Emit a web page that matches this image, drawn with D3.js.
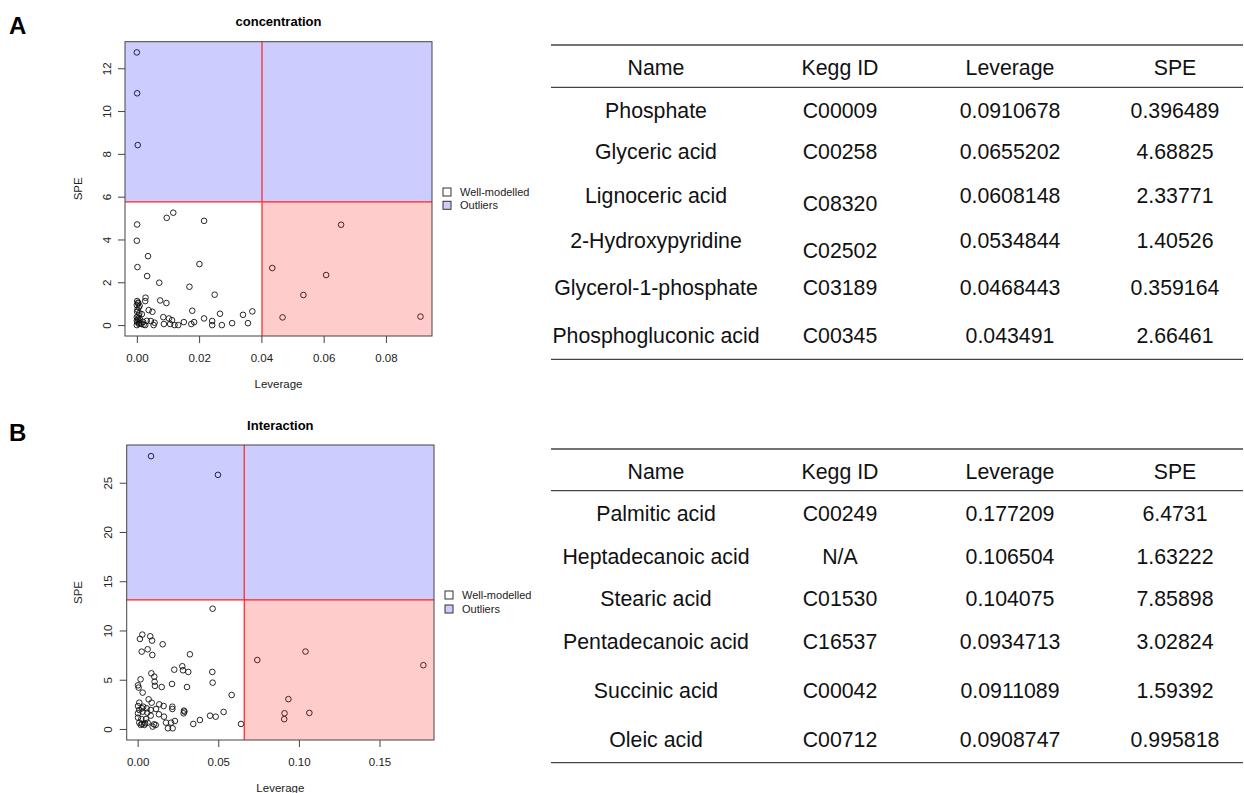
<!DOCTYPE html>
<html>
<head>
<meta charset="utf-8">
<script src="https://cdn.jsdelivr.net/npm/d3@7"></script>
<style>
  body { margin: 0; background: #fff; }
  svg { display: block; font-family: "Liberation Sans", Arial, sans-serif; }
</style>
</head>
<body>
<script>
// ---- data: panel A (concentration) ----
var levA = [0, 0.0001, 0.0003,
  0.0001, 0, 0.0002, 0.0033, 0.0036, 0.0096, 0.0117, 0.0216, 0.0201, 0.0072, 0.0169, 0.025,
  0.0075, 0.0095, 0.0028, 0.0027, 0.0178, 0.0216, 0.0267, 0.0341, 0.0371, 0.0357, 0.0306,
  0.0273, 0.0242, 0.0242, 0.0184, 0.0175, 0.0151, 0.0133, 0.0121, 0.0113, 0.0103, 0.0085,
  0.0087, 0.0107, 0.0057, 0.0054, 0.0045, 0.0038, 0.005, 0.0032, 0.0027, 0.0015, 0.0016, 0.001,
  0.0001, 0.0004, 0.0, 0.0006, 0.0002, 0.0008, 0.0, 0.0005, 0.0002, 0.0007, 0.0, 0.0004, 0.0009, 0.0001, 0.0006,
  0.0003, 0.0, 0.0008, 0.002, 0.0022,
  0.0656, 0.0435, 0.0608, 0.0535, 0.0468, 0.0911];
var speA = [12.74, 10.83, 8.41,
  4.70, 3.94, 2.71, 2.29, 3.22, 5.01, 5.25, 4.87, 2.85, 1.98, 1.79, 1.42,
  1.15, 1.03, 1.28, 1.12, 0.67, 0.31, 0.53, 0.48, 0.64, 0.09, 0.09,
  0, 0, 0.19, 0.14, 0.05, 0.14, 0, 0, 0.23, 0.31, 0.37,
  0.05, 0.05, 0.11, 0, 0.19, 0.70, 0.62, 0.20, 0, 0.05, 0.51, 0.27,
  1.12, 1.01, 0.93, 0.82, 0.72, 0.56, 0.37, 0.25, 0.14, 0.05, 0.0, 1.05, 0.9, 0.62, 0.45,
  0.3, 0.2, 0.1, 0.15, 0.02,
  4.688, 2.665, 2.338, 1.405, 0.359, 0.396];
var levCutA = 0.0402, speCutA = 5.76;
var xTicksA = [0, 0.02, 0.04, 0.06, 0.08];
var yTicksA = [0, 2, 4, 6, 8, 10, 12];

// ---- data: panel B (Interaction) ----
var levB = [0.0083, 0.0498, 0.0465, 0.0742, 0.1041, 0.0935, 0.0911, 0.0909, 0.1065, 0.1772,
  0.0463, 0.0465, 0.0583, 0.0533, 0.0449, 0.0484, 0.0641, 0.0386,
  0.0029, 0.0014, 0.0078, 0.0089, 0.0155, 0.0025, 0.0062, 0.0091, 0.0324, 0.0277, 0.0227, 0.0281, 0.0314,
  0.0085, 0.0103, 0.0105, 0.0107, 0.0018, 0.0002, 0.0006, 0.0031, 0.0149, 0.0213, 0.0306,
  0.0068, 0.0087, 0.001, 0.0002, 0.0134, 0.0161, 0.0215, 0.0215, 0.0287, 0.0285, 0.029,
  0.0035, 0.0027, 0.0056, 0.0081, 0.0114, 0.001, 0.0002, 0.0031, 0.006, 0.0081, 0.0132, 0.0163,
  0.0002, 0.0023, 0.0052, 0.001, 0.0027, 0.0046, 0.0062, 0.0019, 0.0042, 0.0101, 0.0112, 0.0093,
  0.0176, 0.0207, 0.0231, 0.0188, 0.0217, 0.0345];
var speB = [27.7, 25.8, 12.21, 7.0, 7.859, 3.028, 1.594, 0.996, 1.632, 6.473,
  5.79, 4.70, 3.45, 1.73, 1.35, 1.25, 0.51, 0.91,
  9.58, 9.14, 9.41, 8.97, 8.60, 7.85, 8.09, 7.51, 7.58, 6.37, 6.02, 5.96, 5.79,
  5.65, 5.31, 4.80, 4.37, 5.04, 4.43, 4.20, 3.69, 4.26, 4.57, 4.26,
  3.01, 2.67, 2.67, 2.33, 2.50, 2.33, 2.26, 2.03, 1.86, 1.59, 1.76,
  2.26, 2.10, 2.10, 1.93, 2.03, 1.93, 1.59, 1.76, 1.66, 1.35, 1.49, 1.25,
  1.15, 1.01, 1.01, 0.64, 0.51, 0.57, 0.64, 0.41, 0.41, 0.47, 0.41, 0.24,
  0.64, 0.64, 0.81, 0.07, 0.07, 0.51];
var levCutB = 0.0661, speCutB = 13.1;
var xTicksB = [0, 0.05, 0.10, 0.15];
var yTicksB = [0, 5, 10, 15, 20, 25];

// ---- tables ----
var tableHeader = ["Name", "Kegg ID", "Leverage", "SPE"];
var namesA = ["Phosphate", "Glyceric acid", "Lignoceric acid", "2-Hydroxypyridine", "Glycerol-1-phosphate", "Phosphogluconic acid"];
var keggA = ["C00009", "C00258", "C08320", "C02502", "C03189", "C00345"];
var levTabA = ["0.0910678", "0.0655202", "0.0608148", "0.0534844", "0.0468443", "0.043491"];
var speTabA = ["0.396489", "4.68825", "2.33771", "1.40526", "0.359164", "2.66461"];
var namesB = ["Palmitic acid", "Heptadecanoic acid", "Stearic acid", "Pentadecanoic acid", "Succinic acid", "Oleic acid"];
var keggB = ["C00249", "N/A", "C01530", "C16537", "C00042", "C00712"];
var levTabB = ["0.177209", "0.106504", "0.104075", "0.0934713", "0.0911089", "0.0908747"];
var speTabB = ["6.4731", "1.63222", "7.85898", "3.02824", "1.59392", "0.995818"];

var svg = d3.select("body").append("svg")
  .attr("width", 1244)
  .attr("height", 793);

function drawPanel(opt) {
  var x = d3.scaleLinear().domain(opt.xDomain).range([opt.left, opt.right]);
  var y = d3.scaleLinear().domain(opt.yDomain).range([opt.bottom, opt.top]);
  var g = svg.append("g");

  // points first, translucent regions on top (like the R plot)
  g.selectAll("circle.pt").data(opt.lev).enter()
    .append("circle")
    .attr("class", "pt")
    .attr("cx", d => x(d))
    .attr("cy", (d, i) => y(opt.spe[i]))
    .attr("r", 2.8)
    .attr("fill", "none")
    .attr("stroke", "#111")
    .attr("stroke-width", 0.9);

  g.append("rect")
    .attr("x", opt.left).attr("y", opt.top)
    .attr("width", opt.right - opt.left)
    .attr("height", y(opt.speCut) - opt.top)
    .attr("fill", "#0000ff").attr("fill-opacity", 0.2);
  g.append("rect")
    .attr("x", x(opt.levCut)).attr("y", y(opt.speCut))
    .attr("width", opt.right - x(opt.levCut))
    .attr("height", opt.bottom - y(opt.speCut))
    .attr("fill", "#ff0000").attr("fill-opacity", 0.2);

  g.append("line")
    .attr("x1", opt.left).attr("x2", opt.right)
    .attr("y1", y(opt.speCut)).attr("y2", y(opt.speCut))
    .attr("stroke", "#ff2020").attr("stroke-width", 1.2);
  g.append("line")
    .attr("x1", x(opt.levCut)).attr("x2", x(opt.levCut))
    .attr("y1", opt.top).attr("y2", opt.bottom)
    .attr("stroke", "#ff2020").attr("stroke-width", 1.2);

  g.append("rect")
    .attr("x", opt.left).attr("y", opt.top)
    .attr("width", opt.right - opt.left).attr("height", opt.bottom - opt.top)
    .attr("fill", "none").attr("stroke", "#444").attr("stroke-width", 1);

  // axes
  var xAxis = g.append("g")
    .attr("transform", "translate(0," + opt.bottom + ")")
    .call(d3.axisBottom(x).tickValues(opt.xTicks).tickFormat(d3.format(".2f")).tickSize(7).tickPadding(11));
  var yAxis = g.append("g")
    .attr("transform", "translate(" + opt.left + ",0)")
    .call(d3.axisLeft(y).tickValues(opt.yTicks).tickFormat(d3.format("d")).tickSize(7));
  [xAxis, yAxis].forEach(function (a) {
    a.select(".domain").remove();
    a.selectAll(".tick line").attr("stroke", "#444");
    a.selectAll("text").attr("fill", "#222").style("font-size", "11.5px")
      .style("font-family", "'Liberation Sans', Arial, sans-serif");
  });
  yAxis.selectAll("text")
    .attr("transform", "rotate(-90)")
    .attr("text-anchor", "middle")
    .attr("x", 0).attr("y", -14.3).attr("dy", null);

  var cx = (opt.left + opt.right) / 2;
  g.append("text")
    .attr("x", cx).attr("y", opt.titleY)
    .attr("text-anchor", "middle")
    .style("font-size", "13px").style("font-weight", "bold")
    .text(opt.title);
  g.append("text")
    .attr("x", cx).attr("y", opt.xLabelY)
    .attr("text-anchor", "middle")
    .style("font-size", "11.5px").attr("fill", "#222")
    .text("Leverage");
  g.append("text")
    .attr("transform", "translate(82," + (opt.top + opt.bottom) / 2 + ") rotate(-90)")
    .attr("text-anchor", "middle")
    .style("font-size", "11.5px").attr("fill", "#222")
    .text("SPE");

  // legend
  var legend = g.append("g").attr("transform", "translate(" + opt.legX + "," + opt.legY + ")");
  [["Well-modelled", "#ffffff"], ["Outliers", "#ccccff"]].forEach(function (item, i) {
    legend.append("rect")
      .attr("x", 0).attr("y", i * opt.legStep - 4)
      .attr("width", 8).attr("height", 8)
      .attr("fill", item[1]).attr("stroke", "#333").attr("stroke-width", 1);
    legend.append("text")
      .attr("x", 17).attr("y", i * opt.legStep + 4)
      .style("font-size", "11px").attr("fill", "#222")
      .text(item[0]);
  });

  // panel letter
  svg.append("text")
    .attr("x", 9).attr("y", opt.letterY)
    .style("font-size", "24px").style("font-weight", "bold")
    .text(opt.letter);
}

drawPanel({
  letter: "A", letterY: 34, title: "concentration", titleY: 26, xLabelY: 388,
  lev: levA, spe: speA, levCut: levCutA, speCut: speCutA,
  xDomain: [-0.0038, 0.0948], yDomain: [-0.51, 13.24],
  left: 125, right: 432, top: 41.7, bottom: 336,
  xTicks: xTicksA, yTicks: yTicksA,
  legX: 443, legY: 192, legStep: 13.3
});
drawPanel({
  letter: "B", letterY: 441, title: "Interaction", titleY: 430, xLabelY: 792,
  lev: levB, spe: speB, levCut: levCutB, speCut: speCutB,
  xDomain: [-0.0068, 0.1838], yDomain: [-1.12, 28.83],
  left: 126.7, right: 434, top: 445, bottom: 740,
  xTicks: xTicksB, yTicks: yTicksB,
  legX: 445, legY: 595, legStep: 14
});

function drawTable(opt) {
  var g = svg.append("g");
  var colX = [656, 840, 1010, 1175];
  var fs = 21.3;
  var lines = [opt.topLine, opt.headLine, opt.bottomLine];
  g.selectAll("line").data(lines).enter().append("line")
    .attr("x1", 551).attr("x2", 1243)
    .attr("y1", d => d).attr("y2", d => d)
    .attr("stroke", "#444").attr("stroke-width", 1.3);

  tableHeader.forEach(function (h, j) {
    g.append("text")
      .attr("x", colX[j]).attr("y", opt.headY + fs * 0.36)
      .attr("text-anchor", "middle")
      .style("font-size", fs + "px").attr("fill", "#111")
      .text(h);
  });
  var cols = [opt.names, opt.kegg, opt.lev, opt.spe];
  cols.forEach(function (col, j) {
    g.selectAll("text.c" + j).data(col).enter().append("text")
      .attr("class", "c" + j)
      .attr("x", colX[j])
      .attr("y", (d, i) => opt.rowY[i] + fs * 0.36 + (j === 1 ? opt.keggShift[i] : 0))
      .attr("text-anchor", "middle")
      .style("font-size", fs + "px").attr("fill", "#111")
      .text(d => d);
  });
}

drawTable({
  names: namesA, kegg: keggA, lev: levTabA, spe: speTabA,
  topLine: 45, headLine: 87.3, bottomLine: 359.3, headY: 67.3,
  rowY: [110, 151.7, 195, 240, 287, 335],
  keggShift: [0, 0, 8.5, 10, 0, 0]
});
drawTable({
  names: namesB, kegg: keggB, lev: levTabB, spe: speTabB,
  topLine: 449, headLine: 490.7, bottomLine: 762.7, headY: 471.7,
  rowY: [513.3, 556, 598.3, 641.7, 690, 739.3],
  keggShift: [0, 0, 0, 0, 0, 0]
});
</script>
</body>
</html>
